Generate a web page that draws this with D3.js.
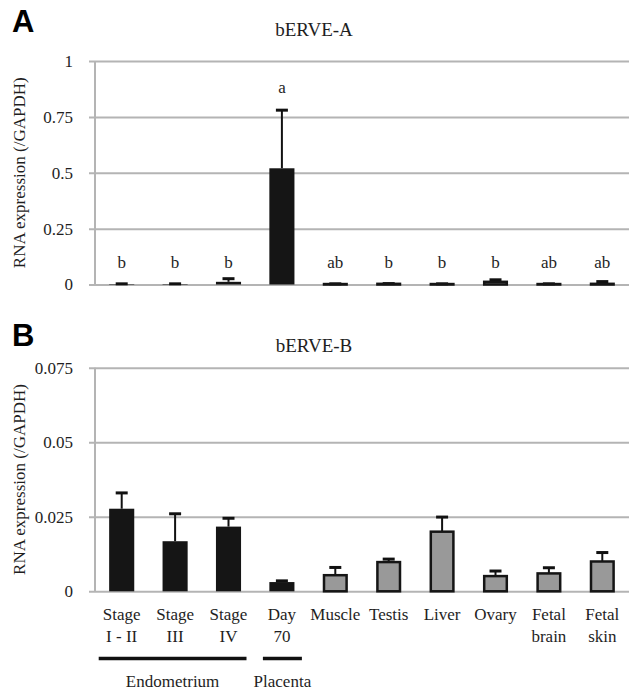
<!DOCTYPE html>
<html>
<head>
<meta charset="utf-8">
<script src="https://cdn.jsdelivr.net/npm/d3@7"></script>
</head>
<body style="margin:0">
<svg id="chart" width="631" height="691"></svg>
<script>
"use strict";

// tissues (same order in both panels)
const tissues = ["Stage I - II", "Stage III", "Stage IV", "Day 70", "Muscle", "Testis", "Liver", "Ovary", "Fetal brain", "Fetal skin"];
const tissueLines = [["Stage", "I - II"], ["Stage", "III"], ["Stage", "IV"], ["Day", "70"], ["Muscle"], ["Testis"], ["Liver"], ["Ovary"], ["Fetal", "brain"], ["Fetal", "skin"]];
// reproductive tissues are drawn black, the others grey
const reproductive = [true, true, true, true, false, false, false, false, false, false];

// panel A : bERVE-A
const meanA = [0.002, 0.002, 0.012, 0.52, 0.002, 0.003, 0.002, 0.012, 0.002, 0.003];
const errA  = [0.001, 0.001, 0.014, 0.26, 0.001, 0.001, 0.001, 0.009, 0.001, 0.010];
const lettersA = ["b", "b", "b", "a", "ab", "b", "b", "b", "ab", "ab"];
const ticksA = [0, 0.25, 0.5, 0.75, 1];

// panel B : bERVE-B
const meanB = [0.0277, 0.0168, 0.0217, 0.0031, 0.0054, 0.0098, 0.0200, 0.0051, 0.0060, 0.0100];
const errB  = [0.0053, 0.0092, 0.0028, 0.0004, 0.0026, 0.0010, 0.0049, 0.0017, 0.0019, 0.0030];
const ticksB = [0, 0.025, 0.05, 0.075];

// tissue groups under the x axis
const groupNames = ["Endometrium", "Placenta"];
const groupFirst = [0, 3];
const groupLast  = [2, 3];

const SERIF = "Liberation Serif";
const svg = d3.select("#chart");
const left = 95, right = 629;
const gridColor = "#b4b4b4";
const ink = "#1e1e1e";

// every label of the figure goes through here
function label(sel, size) {
  return sel.attr("font-family", SERIF)
    .style("font-family", SERIF)
    .style("font-size", size + "px")
    .attr("fill", ink);
}

const x = d3.scaleBand()
  .domain(tissues)
  .range([left, right])
  .paddingInner(0.53)
  .paddingOuter(0.265);

function panel(opts) {
  const y = d3.scaleLinear().domain(opts.domain).range([opts.bottom, opts.top]);
  const g = svg.append("g");

  // grid + tick labels
  const axis = d3.axisLeft(y)
    .tickValues(opts.ticks)
    .tickFormat(d3.format(""))
    .tickSizeOuter(0)
    .tickSizeInner(0)
    .tickPadding(22);
  const ax = g.append("g")
    .attr("transform", `translate(${left},0)`)
    .call(axis);
  ax.select(".domain").remove();
  ax.selectAll(".tick line")
    .attr("x1", -6)
    .attr("x2", right - left)
    .attr("stroke", gridColor)
    .attr("stroke-width", 2);
  label(ax.selectAll(".tick text"), 17);

  g.append("line")
    .attr("x1", left).attr("x2", left)
    .attr("y1", y(opts.domain[1])).attr("y2", y(0))
    .attr("stroke", gridColor)
    .attr("stroke-width", 2);

  const data = tissues.map((t, i) => ({ t: t, mean: opts.mean[i], err: opts.err[i], dark: reproductive[i] }));
  const cx = d => x(d.t) + x.bandwidth() / 2;

  // error bars (upper only)
  const eb = g.selectAll("g.err").data(data).enter().append("g").attr("class", "err");
  eb.append("line")
    .attr("x1", cx).attr("x2", cx)
    .attr("y1", d => y(d.mean))
    .attr("y2", d => y(d.mean + d.err))
    .attr("stroke", "#111")
    .attr("stroke-width", 2);
  eb.append("line")
    .attr("x1", d => cx(d) - 6)
    .attr("x2", d => cx(d) + 6)
    .attr("y1", d => y(d.mean + d.err))
    .attr("y2", d => y(d.mean + d.err))
    .attr("stroke", "#111")
    .attr("stroke-width", 3);

  // bars
  g.selectAll("rect.bar").data(data).enter().append("rect")
    .attr("class", "bar")
    .attr("x", d => d.dark ? x(d.t) : x(d.t) + 1.25)
    .attr("width", d => d.dark ? x.bandwidth() : x.bandwidth() - 2.5)
    .attr("y", d => y(d.mean))
    .attr("height", d => y(0) - y(d.mean))
    .attr("fill", d => d.dark ? "#151515" : "#999")
    .attr("stroke", d => d.dark ? "none" : "#151515")
    .attr("stroke-width", 2.5);

  // significance letters
  if (opts.letters) {
    label(g.selectAll("text.letter").data(data).enter().append("text"), 17)
      .attr("class", "letter")
      .attr("x", cx)
      .attr("y", d => {
        const top = d.mean + d.err;
        return y(top > 0.1 ? top : 0) - 17;
      })
      .attr("text-anchor", "middle")
      .text((d, i) => opts.letters[i]);
  }

  // title
  label(svg.append("text"), 19)
    .attr("x", 314)
    .attr("y", opts.titleY)
    .attr("text-anchor", "middle")
    .text(opts.title);

  // panel letter
  svg.append("text")
    .attr("x", 12)
    .attr("y", opts.letterY)
    .attr("font-family", "Liberation Sans")
    .style("font-family", "Liberation Sans")
    .style("font-size", "31px")
    .style("font-weight", "bold")
    .attr("fill", "#000")
    .text(opts.panel);

  // y axis title
  label(svg.append("text"), 17)
    .attr("transform", "rotate(-90)")
    .attr("x", -(opts.top + opts.bottom) / 2)
    .attr("y", 25)
    .attr("text-anchor", "middle")
    .text("RNA expression (/GAPDH)");

  return y;
}

panel({
  panel: "A", letterY: 32, title: "bERVE-A", titleY: 36,
  domain: [0, 1], top: 61, bottom: 284.5, ticks: ticksA,
  mean: meanA, err: errA, letters: lettersA
});

panel({
  panel: "B", letterY: 346, title: "bERVE-B", titleY: 352,
  domain: [0, 0.075], top: 367.7, bottom: 591.3, ticks: ticksB,
  mean: meanB, err: errB
});

// category labels under panel B
const lab = svg.append("g");
tissueLines.forEach((lines, i) => {
  const t = label(lab.append("text"), 17)
    .attr("text-anchor", "middle");
  lines.forEach((s, k) => {
    t.append("tspan")
      .attr("x", x(tissues[i]) + x.bandwidth() / 2)
      .attr("y", 620 + k * 21.5)
      .text(s);
  });
});

// group bars + names
groupNames.forEach((name, i) => {
  const single = groupFirst[i] === groupLast[i];
  const x1 = x(tissues[groupFirst[i]]) + x.bandwidth() / 2 - (single ? 19 : 23);
  const x2 = x(tissues[groupLast[i]]) + x.bandwidth() / 2 + (single ? 20 : 18);
  lab.append("line")
    .attr("x1", x1).attr("x2", x2)
    .attr("y1", 658.5).attr("y2", 658.5)
    .attr("stroke", "#111")
    .attr("stroke-width", 3.5);
  label(lab.append("text"), 17)
    .attr("x", (x1 + x2) / 2)
    .attr("y", 687)
    .attr("text-anchor", "middle")
    .text(name);
});
</script>
</body>
</html>
